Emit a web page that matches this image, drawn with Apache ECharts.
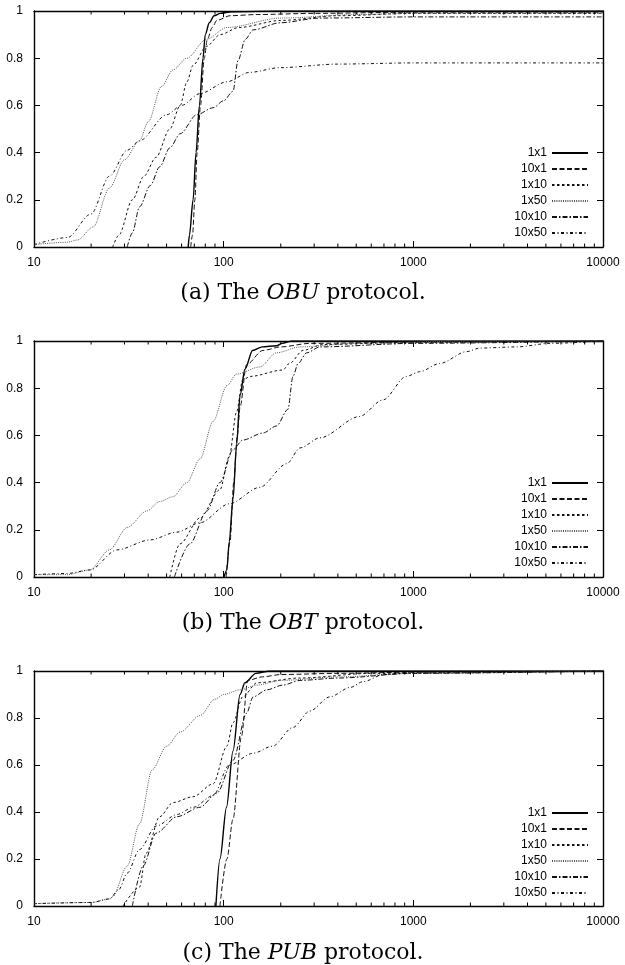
<!DOCTYPE html>
<html><head><meta charset="utf-8">
<script src="https://cdn.jsdelivr.net/npm/echarts@6/dist/echarts.min.js"></script>
<style>html,body{margin:0;padding:0;background:#fff}#c{width:625px;height:965px}</style>
</head><body><div id="c"></div><script>
// ---- data ----
const seriesNames = ['1x1', '10x1', '1x10', '1x50', '10x10', '10x50'];
const xTickLabels = ['10', '100', '1000', '10000'];
const yTickLabels = ['0', '0.2', '0.4', '0.6', '0.8', '1'];
const captions = ['(a) The {i|OBU} protocol.', '(b) The {i|OBT} protocol.', '(c) The {i|PUB} protocol.'];

// (a) OBU
const obu1x1 = [[65,0],[66,0.05],[69,0.2],[71.5,0.4],[74.5,0.6],[77.8,0.8],[80,0.9],[84,0.95],[89,0.98],[96,0.99],[110,0.997],[200,1],[10000,1]];
const obu10x1 = [[67,0],[68.5,0.05],[70.5,0.2],[72.5,0.4],[75.5,0.6],[79,0.8],[82,0.88],[87,0.93],[92,0.96],[108,0.98],[150,0.985],[300,0.99],[1000,0.995],[10000,0.995]];
const obu1x10 = [[26,0],[28,0.05],[33,0.2],[38,0.3],[44,0.38],[52,0.5],[59,0.6],[64,0.7],[69,0.77],[81,0.85],[96,0.9],[120,0.93],[200,0.96],[400,0.98],[1000,0.99],[10000,0.99]];
const obu1x50 = [[10,0.01],[15,0.02],[17,0.03],[20.5,0.085],[25,0.25],[30,0.37],[36,0.45],[40,0.53],[47,0.68],[54,0.75],[64,0.8],[81,0.88],[104,0.93],[200,0.97],[500,0.985],[1000,0.99],[10000,0.99]];
const obu10x10 = [[31,0],[33,0.06],[36,0.17],[41,0.26],[46,0.34],[52,0.42],[59,0.48],[72,0.56],[88,0.59],[100,0.62],[112,0.66],[119,0.79],[130,0.88],[143,0.92],[198,0.95],[322,0.97],[1000,0.975],[10000,0.975]];
const obu10x50 = [[10,0.01],[15,0.04],[20,0.14],[25,0.3],[31,0.41],[36,0.45],[50,0.56],[60,0.6],[75,0.65],[104,0.7],[137,0.74],[198,0.76],[400,0.775],[1000,0.78],[10000,0.78]];

// (b) OBT
const obt1x1 = [[100.5,0],[104,0.03],[107,0.15],[112,0.33],[117,0.56],[122,0.77],[129.5,0.88],[142,0.96],[160,0.975],[190,0.98],[203,0.99],[230,1],[10000,1]];
const obt10x1 = [[103,0],[108,0.15],[113,0.4],[118,0.6],[122,0.72],[132,0.9],[161,0.96],[200,0.975],[285,0.99],[1000,0.995],[10000,1]];
const obt1x10 = [[52,0],[58.7,0.14],[75,0.25],[95.6,0.37],[107,0.51],[117,0.7],[126,0.835],[138,0.85],[205,0.877],[223,0.906],[262,0.96],[333,0.985],[1000,0.995],[10000,1]];
const obt1x50 = [[10,0.01],[15,0.01],[19.7,0.03],[25,0.115],[31,0.21],[39.4,0.28],[46,0.32],[54,0.34],[64,0.4],[75,0.5],[88,0.66],[104,0.81],[117,0.86],[155,0.89],[190,0.95],[253,0.975],[500,0.99],[2000,1],[10000,1]];
const obt10x10 = [[55,0],[66.3,0.14],[81.6,0.28],[95.6,0.4],[112,0.54],[126,0.58],[161,0.61],[190,0.64],[218,0.71],[232,0.85],[247,0.905],[274,0.95],[322,0.975],[1000,0.99],[10000,1]];
const obt10x50 = [[10,0.01],[15,0.015],[19.7,0.03],[27.4,0.115],[40.8,0.157],[56.7,0.19],[75,0.23],[107,0.31],[155,0.38],[215,0.48],[253,0.547],[322,0.59],[520,0.68],[690,0.75],[920,0.85],[1080,0.87],[1380,0.905],[1910,0.955],[2240,0.97],[3500,0.975],[5260,0.99],[10000,1]];

// (c) PUB
const pub1x1 = [[91,0],[95.6,0.2],[103.5,0.42],[112,0.66],[122,0.9],[129.5,0.95],[148,0.99],[176,1],[10000,1]];
const pub10x1 = [[95.6,0],[104,0.2],[112,0.37],[124,0.72],[134,0.96],[160,0.975],[200,0.985],[400,0.99],[1000,0.995],[10000,1]];
const pub1x10 = [[29.5,0],[36,0.08],[39,0.225],[46,0.38],[54,0.44],[69,0.465],[88,0.52],[104,0.68],[112,0.78],[126,0.89],[150,0.95],[250,0.97],[600,0.99],[10000,1]];
const pub1x50 = [[10,0.01],[20,0.015],[25,0.03],[26,0.04],[31,0.17],[36,0.35],[42,0.58],[50,0.68],[59,0.74],[75,0.81],[90,0.88],[100,0.9],[122,0.92],[150,0.94],[200,0.96],[400,0.975],[1000,0.99],[10000,1]];
const pub10x10 = [[33,0],[37.6,0.17],[44,0.31],[56.7,0.38],[75,0.42],[92,0.48],[112,0.62],[132,0.82],[143,0.89],[169,0.92],[205,0.94],[253,0.96],[400,0.97],[1000,0.99],[10000,1]];
const pub10x50 = [[10,0.01],[20,0.015],[25,0.03],[28,0.07],[31,0.14],[36,0.24],[44,0.34],[57,0.39],[69,0.42],[88,0.47],[107,0.6],[143,0.65],[181,0.68],[232,0.76],[285,0.83],[363,0.89],[464,0.93],[545,0.955],[700,0.985],[1000,0.995],[10000,1]];

const panels = [
  [obu1x1, obu10x1, obu1x10, obu1x50, obu10x10, obu10x50],
  [obt1x1, obt10x1, obt1x10, obt1x50, obt10x10, obt10x50],
  [pub1x1, pub10x1, pub1x10, pub1x50, pub10x10, pub10x50]
];

// ---- styles / layout ----
const lineStyles = [
  {type: 'solid', width: 1.4, color: '#000'},
  {type: [5, 2.5], width: 1, color: '#111'},
  {type: [2.5, 2.5], width: 1, color: '#111'},
  {type: [1, 1.2], width: 1, color: '#555'},
  {type: [5, 2, 1.5, 2], width: 1, color: '#111'},
  {type: [3, 2.5, 1, 2.5], width: 1, color: '#111'}
];
const panelTops = [11, 341, 671];
const panelHeights = [236, 236, 235];
const gridLeft = 34, gridWidth = 569;
const labelFont = 'Liberation Sans';

const minorTicks = [];
for (let d = 10; d < 10000; d *= 10) for (let k = 2; k <= 9; k++) minorTicks.push([k * d, 0]);

const grids = [], xAxes = [], yAxes = [], series = [], legends = [], graphics = [];
panelTops.forEach((top, i) => {
  grids.push({left: gridLeft, top: top, width: gridWidth, height: panelHeights[i]});
  const axLine = {show: true, onZero: false, lineStyle: {color: '#000', width: 1.4}};
  const tick = {show: true, inside: true, length: 6, lineStyle: {color: '#000', width: 1}};
  xAxes.push({
    type: 'log', logBase: 10, min: 10, max: 10000, splitNumber: 3, gridIndex: i, position: 'bottom',
    axisLine: axLine, axisTick: tick, splitLine: {show: false},
    axisLabel: {margin: 10, color: '#000', fontFamily: labelFont, fontSize: 12,
      formatter: v => { const s = String(Math.round(v)); return xTickLabels.indexOf(s) >= 0 ? s : ''; }}
  });
  xAxes.push({
    type: 'log', logBase: 10, min: 10, max: 10000, splitNumber: 3, gridIndex: i, position: 'top',
    axisLine: axLine, axisTick: tick, splitLine: {show: false}, axisLabel: {show: false}
  });
  yAxes.push({
    type: 'value', min: 0, max: 1, interval: 0.2, gridIndex: i, position: 'left',
    axisLine: axLine, axisTick: tick, splitLine: {show: false},
    axisLabel: {margin: 11, color: '#000', fontFamily: labelFont, fontSize: 12,
      formatter: v => yTickLabels[Math.round(v * 5)]}
  });
  yAxes.push({
    type: 'value', min: 0, max: 1, interval: 0.2, gridIndex: i, position: 'right',
    axisLine: axLine, axisTick: tick, splitLine: {show: false}, axisLabel: {show: false}
  });
  panels[i].forEach((data, k) => {
    const st = lineStyles[k];
    series.push({
      name: seriesNames[k], type: 'line', xAxisIndex: 2 * i, yAxisIndex: 2 * i,
      data: data, symbol: 'none', showSymbol: false, smooth: 0.3, smoothMonotone: 'x',
      lineStyle: {type: st.type, width: st.width, color: st.color},
      itemStyle: {color: st.color}, z: 3, silent: true
    });
  });
  series.push({
    type: 'custom', xAxisIndex: 2 * i, yAxisIndex: 2 * i, data: minorTicks, silent: true, z: 5,
    renderItem: function (params, api) {
      const v = api.value(0);
      const b = api.coord([v, 0]);
      const t = api.coord([v, 1]);
      return {type: 'group', children: [
        {type: 'line', shape: {x1: b[0], y1: b[1], x2: b[0], y2: b[1] - 3.5}, style: {stroke: '#000', lineWidth: 1}},
        {type: 'line', shape: {x1: t[0], y1: t[1], x2: t[0], y2: t[1] + 3.5}, style: {stroke: '#000', lineWidth: 1}}
      ]};
    }
  });
  legends.push({
    data: seriesNames, orient: 'vertical', align: 'right', right: 36, top: top + 136,
    padding: 0, itemWidth: 36, itemHeight: 12, itemGap: 4, selectedMode: false,
    itemStyle: {color: 'rgba(0,0,0,0)', borderColor: 'rgba(0,0,0,0)', borderWidth: 0, opacity: 0},
    textStyle: {fontFamily: labelFont, fontSize: 12, color: '#000', lineHeight: 12}
  });
  graphics.push({
    type: 'text', x: 303, y: top + 282, silent: true,
    style: {
      text: captions[i], align: 'center', verticalAlign: 'middle',
      fontFamily: 'DejaVu Serif', fontSize: 22, fill: '#000',
      rich: {i: {fontStyle: 'italic', fontFamily: 'DejaVu Serif', fontSize: 22, fill: '#000'}}
    }
  });
});

const chart = echarts.init(document.getElementById('c'), null, {renderer: 'canvas'});
chart.setOption({
  animation: false, backgroundColor: '#fff',
  grid: grids, xAxis: xAxes, yAxis: yAxes, series: series, legend: legends, graphic: graphics
});
</script></body></html>
